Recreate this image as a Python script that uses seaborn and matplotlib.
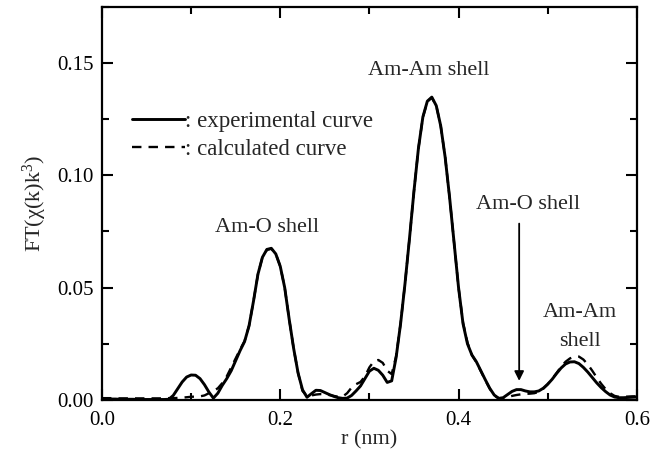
import numpy as np
import pandas as pd
import matplotlib
matplotlib.use("Agg")
import matplotlib.pyplot as plt
import seaborn as sns
from matplotlib.ticker import MultipleLocator

# r grid (nm), step 0.005
r_nm = [round(0.005 * i, 3) for i in range(121)]

experimental = [
    0.0005, 0.0005, 0.0004, 0.0004, 0.0003, 0.0003, 0.0003, 0.0003, 0.0002, 0.0002,
    0.0002, 0.0002, 0.0002, 0.0002, 0.0002, 0.0003, 0.0020, 0.0050, 0.0080, 0.0102,
    0.0111, 0.0110, 0.0095, 0.0068, 0.0035, 0.0008, 0.0030, 0.0065, 0.0095, 0.0130,
    0.0175, 0.0220, 0.0260, 0.0330, 0.0440, 0.0560, 0.0635, 0.0670, 0.0675, 0.0650,
    0.0595, 0.0500, 0.0360, 0.0230, 0.0120, 0.0045, 0.0012, 0.0028, 0.0043, 0.0042,
    0.0033, 0.0024, 0.0016, 0.0010, 0.0007, 0.0008, 0.0020, 0.0040, 0.0062, 0.0095,
    0.0128, 0.0141, 0.0132, 0.0110, 0.0078, 0.0085, 0.0190, 0.0340, 0.0520, 0.0720,
    0.0930, 0.1120, 0.1260, 0.1330, 0.1348, 0.1310, 0.1220, 0.1080, 0.0900, 0.0700,
    0.0500, 0.0340, 0.0250, 0.0200, 0.0170, 0.0130, 0.0090, 0.0052, 0.0022, 0.0007,
    0.0010, 0.0024, 0.0038, 0.0046, 0.0046, 0.0040, 0.0036, 0.0036, 0.0040, 0.0052,
    0.0070, 0.0092, 0.0118, 0.0142, 0.0160, 0.0169, 0.0170, 0.0162, 0.0145, 0.0124,
    0.0100, 0.0076, 0.0055, 0.0037, 0.0022, 0.0013, 0.0010, 0.0010, 0.0011, 0.0012,
    0.0013,
]

calculated = [
    0.0008, 0.0008, 0.0008, 0.0007, 0.0007, 0.0007, 0.0007, 0.0007, 0.0007, 0.0007,
    0.0007, 0.0007, 0.0007, 0.0007, 0.0008, 0.0008, 0.0008, 0.0009, 0.0010, 0.0012,
    0.0014, 0.0015, 0.0016, 0.0020, 0.0030, 0.0040, 0.0052, 0.0075, 0.0105, 0.0145,
    0.0185, 0.0225, 0.0262, 0.0330, 0.0440, 0.0560, 0.0635, 0.0668, 0.0673, 0.0650,
    0.0595, 0.0500, 0.0360, 0.0230, 0.0120, 0.0040, 0.0018, 0.0020, 0.0024, 0.0026,
    0.0025, 0.0022, 0.0018, 0.0014, 0.0015, 0.0030, 0.0055, 0.0070, 0.0080, 0.0105,
    0.0145, 0.0172, 0.0178, 0.0165, 0.0130, 0.0115, 0.0195, 0.0340, 0.0520, 0.0720,
    0.0930, 0.1120, 0.1258, 0.1328, 0.1346, 0.1310, 0.1220, 0.1080, 0.0900, 0.0700,
    0.0500, 0.0345, 0.0255, 0.0200, 0.0168, 0.0128, 0.0088, 0.0050, 0.0020, 0.0008,
    0.0007, 0.0012, 0.0018, 0.0022, 0.0025, 0.0027, 0.0028, 0.0030, 0.0036, 0.0050,
    0.0070, 0.0094, 0.0120, 0.0148, 0.0170, 0.0185, 0.0193, 0.0193, 0.0180, 0.0158,
    0.0130, 0.0100, 0.0072, 0.0048, 0.0030, 0.0018, 0.0014, 0.0014, 0.0015, 0.0016,
    0.0016,
]

df = pd.DataFrame({"r": r_nm, "exp": experimental, "calc": calculated})

sns.set_style("ticks")
plt.rcParams['font.family'] = ['Liberation Serif', 'DejaVu Serif']
plt.rcParams['mathtext.fontset'] = 'custom'
plt.rcParams['mathtext.rm'] = 'Liberation Serif'
plt.rcParams['mathtext.it'] = 'Liberation Serif:italic'

fig = plt.figure(figsize=(6.62, 4.55), dpi=100)
ax = fig.add_axes([0.154, 0.121, 0.808, 0.864])

sns.lineplot(data=df, x="r", y="exp", ax=ax, color="black", lw=2.1,
             label=": experimental curve")
sns.lineplot(data=df, x="r", y="calc", ax=ax, color="black", lw=1.7,
             linestyle=(0, (4, 3)), label=": calculated curve")

ax.set_xlim(0, 0.6)
ax.set_ylim(0, 0.175)
ax.xaxis.set_major_locator(MultipleLocator(0.2))
ax.xaxis.set_minor_locator(MultipleLocator(0.1))
ax.yaxis.set_major_locator(MultipleLocator(0.05))
ax.yaxis.set_minor_locator(MultipleLocator(0.025))
ax.xaxis.set_major_formatter(matplotlib.ticker.FormatStrFormatter('%.1f'))
ax.yaxis.set_major_formatter(matplotlib.ticker.FormatStrFormatter('%.2f'))
ax.tick_params(which='both', direction='in', top=True, right=True, width=1.5,
               labelsize=15, colors='black')
ax.tick_params(which='major', length=8)
ax.tick_params(axis='x', which='major', pad=8)
ax.tick_params(axis='y', which='major', pad=6)
ax.tick_params(which='minor', length=5)
for s in ax.spines.values():
    s.set_linewidth(1.6)
    s.set_color('black')

ax.set_xlabel("r (nm)", fontsize=16, labelpad=0)
ax.set_ylabel("FT(χ(k)k$^{3}$)", fontsize=16, labelpad=6)

ax.legend(loc='upper left', bbox_to_anchor=(0.056, 0.735), frameon=False,
          fontsize=16.5, handlelength=2.3, handletextpad=0.0, labelspacing=0.3,
          borderpad=0, borderaxespad=0)

ax.text(0.185, 0.0769, "Am-O shell", fontsize=16, ha='center', va='center')
ax.text(0.367, 0.1467, "Am-Am shell", fontsize=16, ha='center', va='center')
ax.text(0.478, 0.0871, "Am-O shell", fontsize=16, ha='center', va='center')
ax.text(0.536, 0.039, "Am-Am", fontsize=16, ha='center', va='center')
ax.text(0.536, 0.026, "shell", fontsize=16, ha='center', va='center')
ax.annotate("", xy=(0.468, 0.0085), xytext=(0.468, 0.0785),
            arrowprops=dict(arrowstyle='-|>', color='black', lw=1.3,
                            mutation_scale=14, shrinkA=0, shrinkB=0))

fig.savefig("out.png", dpi=100)
